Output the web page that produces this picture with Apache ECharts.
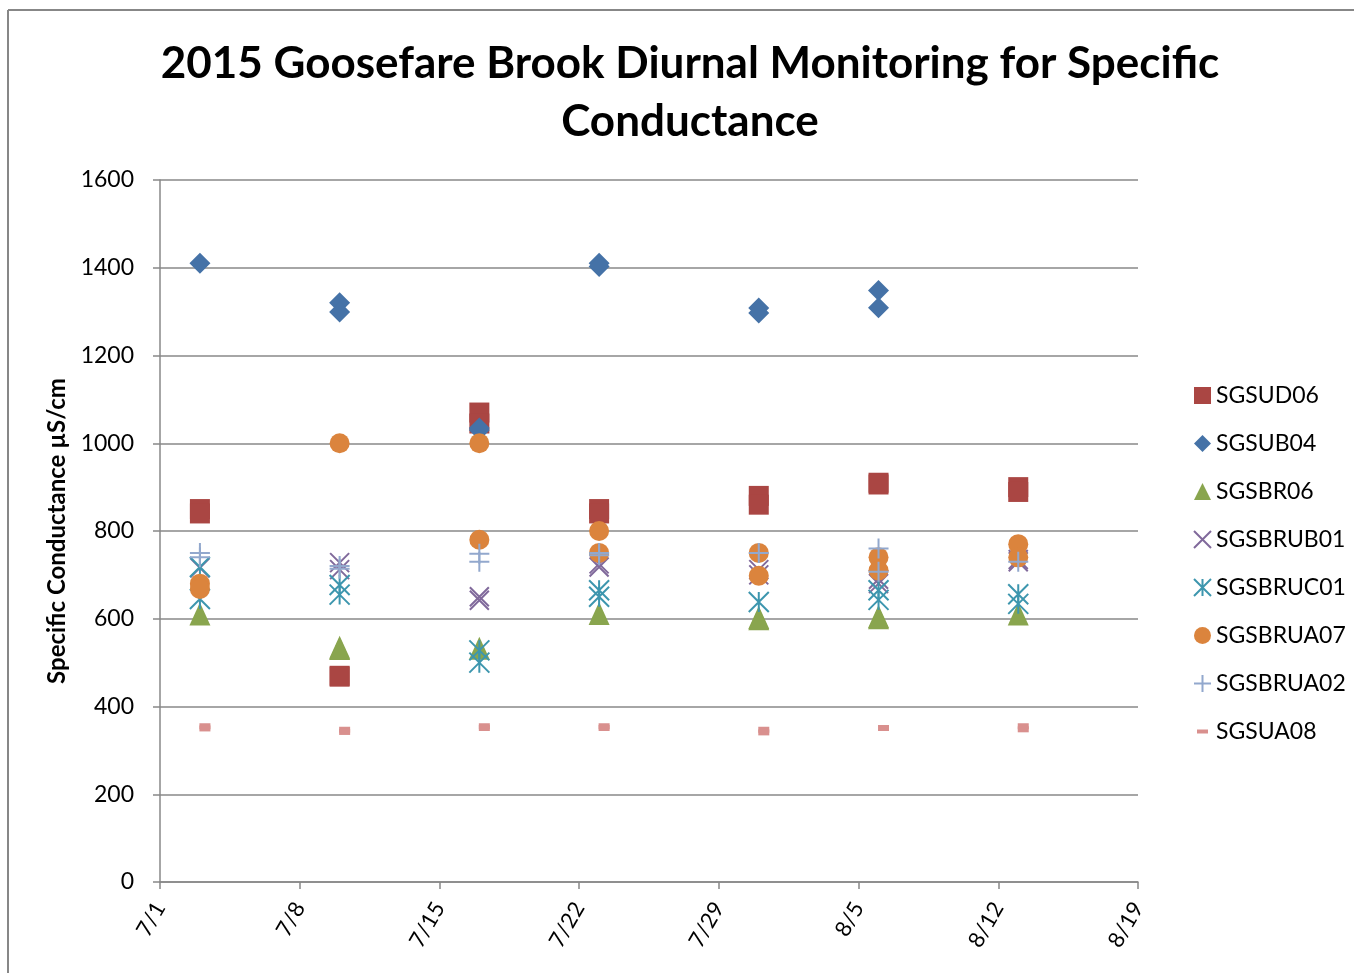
<!DOCTYPE html>
<html>
<head>
<meta charset="utf-8">
<script src="https://cdn.jsdelivr.net/npm/echarts@6/dist/echarts.min.js"></script>
<style>
  html, body { margin: 0; padding: 0; background: #fff; }
  #main { width: 1354px; height: 973px; }
</style>
</head>
<body>
<div id="main"></div>
<script>
// sampling dates (x), readings per date for each station (y, µS/cm)
const dates = ['2015-07-03', '2015-07-10', '2015-07-17', '2015-07-23', '2015-07-31', '2015-08-06', '2015-08-13'];
const xTickStart = '2015-07-01';
const yTicks = [0, 200, 400, 600, 800, 1000, 1200, 1400, 1600];

const SGSUD06   = [[850, 840], [470, 468], [1070, 1045], [850, 840], [880, 860], [910, 906], [900, 889]];
const SGSUB04   = [[1410], [1320, 1299], [1035, 1030], [1410, 1403], [1308, 1297], [1348, 1309], []];
const SGSBR06   = [[611], [535, 532], [533], [612], [603, 600], [605, 602], [611]];
const SGSBRUB01 = [[716], [728, 712], [650, 642], [718, 725], [712, 700], [690, 680], [735, 730]];
const SGSBRUC01 = [[718, 645], [677, 655], [528, 500], [665, 650], [638], [665, 643], [656, 634]];
const SGSBRUA07 = [[680, 668], [1000], [1000, 780], [800, 750], [750, 698], [740, 710], [770, 740]];
const SGSBRUA02 = [[750, 740], [720, 714], [748, 730], [750, 745], [750], [760, 707], [730]];
const SGSUA08   = [[355, 350], [347, 342], [355, 351], [355, 351], [347, 341], [351], [355, 348]];

const DAY = 86400000;
function dayOf(s) {
    return (new Date(s + 'T00:00:00Z') - new Date(xTickStart + 'T00:00:00Z')) / DAY;
}
function points(vals) {
    let out = [];
    vals.forEach(function (list, i) {
        list.forEach(function (v) { out.push([dayOf(dates[i]), v]); });
    });
    return out;
}

const xPath = 'path://M0,0L20,20M20,0L0,20';
const starPath = 'path://M0,0L20,20M20,0L0,20M10,0L10,20';
const plusPath = 'path://M10,0L10,20M0,10L20,10';
const dashLegend = 'path://M0,0M17,17M3,6.5L14,6.5L14,10.5L3,10.5Z';

const font = 'Lato, "Open Sans", sans-serif';

let myChart;
function draw() {
    let option = {
        animation: false,
        textStyle: { fontFamily: font },
        title: {
            text: '2015 Goosefare Brook Diurnal Monitoring for Specific\nConductance',
            left: 685,
            top: 30,
            textAlign: 'center',
            textStyle: { fontFamily: font, fontSize: 44, fontWeight: 'bold', color: '#000', lineHeight: 58 }
        },
        graphic: [
            { type: 'line', shape: { x1: 8, y1: 10, x2: 1354, y2: 10 }, style: { stroke: '#878787', lineWidth: 2 } },
            { type: 'line', shape: { x1: 8, y1: 10, x2: 8, y2: 973 }, style: { stroke: '#878787', lineWidth: 2 } }
        ],
        legend: {
            orient: 'vertical',
            left: 1193,
            top: 384,
            padding: 0,
            itemWidth: 17,
            itemHeight: 17,
            itemGap: 25,
            textStyle: { fontFamily: font, fontSize: 23, color: '#000' },
            data: [
                { name: 'SGSUD06', icon: 'rect' },
                { name: 'SGSUB04', icon: 'diamond' },
                { name: 'SGSBR06', icon: 'triangle' },
                { name: 'SGSBRUB01', icon: xPath },
                { name: 'SGSBRUC01', icon: starPath },
                { name: 'SGSBRUA07', icon: 'circle' },
                { name: 'SGSBRUA02', icon: plusPath },
                { name: 'SGSUA08', icon: dashLegend }
            ]
        },
        grid: { left: 160, right: 216, top: 180, bottom: 91 },
        xAxis: {
            type: 'value',
            min: 0,
            max: 49,
            interval: 7,
            splitLine: { show: false },
            axisLine: { lineStyle: { color: '#888', width: 1.5 } },
            axisTick: { length: 7, lineStyle: { color: '#888', width: 1.5 } },
            axisLabel: {
                rotate: 60,
                margin: 22,
                fontSize: 22,
                color: '#000',
                fontFamily: font,
                formatter: function (v) {
                    let d = new Date(new Date(xTickStart + 'T00:00:00Z').getTime() + v * DAY);
                    return (d.getUTCMonth() + 1) + '/' + d.getUTCDate();
                }
            }
        },
        yAxis: {
            type: 'value',
            min: yTicks[0],
            max: yTicks[yTicks.length - 1],
            interval: yTicks[1] - yTicks[0],
            name: 'Specific Conductance µS/cm',
            nameLocation: 'middle',
            nameGap: 88,
            nameTextStyle: { fontFamily: font, fontSize: 24, fontWeight: 'bold', color: '#000' },
            axisLine: { show: true, lineStyle: { color: '#888', width: 1.5 } },
            axisTick: { show: true, length: 7, lineStyle: { color: '#888', width: 1.5 } },
            splitLine: { lineStyle: { color: '#888', width: 1.5 } },
            axisLabel: { margin: 26, fontSize: 23, color: '#000', fontFamily: font,
                         formatter: function (v) { return String(v); } }
        },
        series: [
            { name: 'SGSUD06', type: 'scatter', symbol: 'rect', symbolSize: 20,
              itemStyle: { color: '#AA4643', opacity: 1 }, data: points(SGSUD06) },
            { name: 'SGSUB04', type: 'scatter', symbol: 'diamond', symbolSize: 21,
              itemStyle: { color: '#4572A7', opacity: 1 }, data: points(SGSUB04) },
            { name: 'SGSBR06', type: 'scatter', symbol: 'triangle', symbolSize: [21, 23],
              itemStyle: { color: '#89A54E', opacity: 1 }, data: points(SGSBR06) },
            { name: 'SGSBRUB01', type: 'scatter', symbol: xPath, symbolSize: 19,
              itemStyle: { color: 'transparent', borderColor: '#80699B', borderWidth: 2, opacity: 1 }, data: points(SGSBRUB01) },
            { name: 'SGSBRUC01', type: 'scatter', symbol: starPath, symbolSize: 20,
              itemStyle: { color: 'transparent', borderColor: '#3D96AE', borderWidth: 2, opacity: 1 }, data: points(SGSBRUC01) },
            { name: 'SGSBRUA07', type: 'scatter', symbol: 'circle', symbolSize: 20,
              itemStyle: { color: '#DB843D', opacity: 1 }, data: points(SGSBRUA07) },
            { name: 'SGSBRUA02', type: 'scatter', symbol: plusPath, symbolSize: 20,
              itemStyle: { color: 'transparent', borderColor: '#92A8CD', borderWidth: 2, opacity: 1 }, data: points(SGSBRUA02) },
            { name: 'SGSUA08', type: 'scatter', symbol: 'rect', symbolSize: [11, 6], symbolOffset: [5, 0],
              itemStyle: { color: '#D9908E', opacity: 1 }, data: points(SGSUA08) }
        ]
    };

    myChart = echarts.init(document.getElementById('main'));
    myChart.setOption(option);

    window.addEventListener('resize', function () {
        myChart.resize();
    }, false);
}

draw();
</script>
</body>
</html>
